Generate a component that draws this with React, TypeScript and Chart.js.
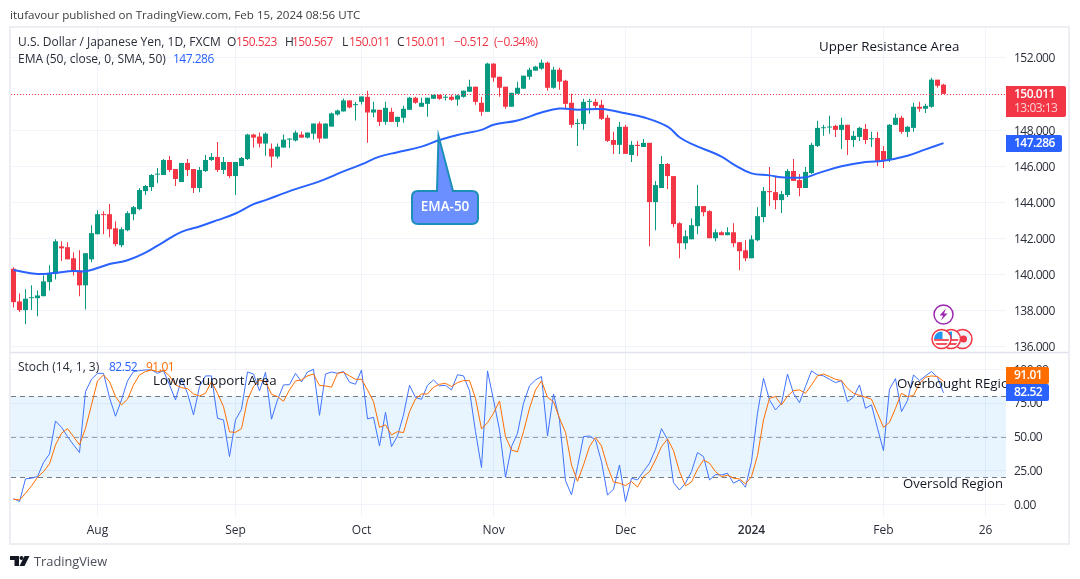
import React, { useEffect, useRef } from 'react'
import { Chart, registerables } from 'chart.js'

Chart.register(...registerables)

const opens = [
  140.33,138.52,138.04,138.70,138.70,138.81,139.59,140.04,141.57,141.52,
  140.91,140.24,139.41,140.85,142.24,143.35,143.35,142.57,141.63,142.46,
  143.35,143.63,144.63,144.85,145.54,145.52,146.35,145.85,145.13,146.19,
  145.85,144.80,145.74,146.35,146.52,145.80,146.24,145.46,146.02,146.41,
  147.76,147.65,147.26,146.98,146.54,147.04,147.48,147.43,147.76,147.59,
  147.81,148.37,147.54,148.20,148.87,149.04,149.65,149.39,149.57,149.85,
  148.98,149.13,148.46,149.02,148.46,148.69,149.13,149.80,149.30,149.46,
  149.74,149.96,149.80,149.85,149.70,149.85,150.13,150.41,149.52,149.02,
  151.69,150.96,150.41,149.30,150.02,150.30,150.96,151.30,151.41,151.74,
  150.35,151.35,150.74,149.52,148.35,148.35,149.57,149.57,149.41,148.69,
  147.46,147.19,148.19,146.63,147.19,147.07,147.30,144.02,144.80,146.13,
  145.46,142.85,141.74,141.96,142.69,143.80,143.52,142.02,142.35,142.19,
  142.35,141.80,141.35,140.91,141.91,143.19,144.63,144.57,144.13,144.41,
  145.74,145.24,144.80,145.63,147.13,148.11,148.15,148.24,148.02,148.30,
  147.46,147.63,148.07,147.50,147.57,146.85,146.35,148.30,148.69,147.91,
  148.13,149.30,149.19,149.30,150.80,150.523,
]
const highs = [
  140.41,138.96,139.19,139.41,139.13,139.96,140.52,141.96,141.85,141.80,
  141.24,141.35,141.19,142.74,143.57,143.52,143.91,142.96,142.63,143.52,
  143.80,144.80,144.96,145.57,145.91,146.41,146.57,145.85,146.19,146.41,
  145.85,145.96,146.63,146.74,147.35,146.52,146.24,146.24,146.52,147.81,
  147.81,147.87,147.87,147.26,147.26,147.76,147.56,147.98,147.93,147.87,
  148.37,148.48,148.37,148.98,149.15,149.76,149.65,149.56,149.87,150.19,
  149.57,149.13,149.57,149.24,148.74,149.35,149.85,149.85,149.80,149.80,
  149.96,149.96,149.96,149.96,149.96,150.19,150.80,150.41,149.85,151.74,
  151.69,150.96,150.41,150.07,150.69,151.02,151.46,151.57,151.91,151.80,
  151.52,151.46,150.80,150.02,148.63,149.74,149.74,149.74,149.69,148.85,
  147.91,148.46,148.30,147.41,147.41,147.52,147.30,145.19,146.57,146.19,
  145.46,142.91,142.46,143.13,144.96,143.80,143.57,142.52,142.41,142.63,
  142.85,141.80,141.91,142.19,143.74,144.85,145.96,145.41,144.63,145.85,
  146.41,145.57,145.96,147.30,148.52,148.30,148.80,148.30,148.69,148.30,
  147.96,148.19,148.35,147.91,147.91,147.13,148.35,148.91,148.80,148.24,
  149.52,149.57,149.46,150.91,150.80,150.567,
]
const lows = [
  138.19,137.93,137.26,138.04,137.70,138.81,139.13,139.74,140.76,140.85,
  139.96,138.80,138.07,140.69,142.24,142.24,142.07,141.57,141.52,142.41,
  143.02,143.57,144.41,144.63,145.07,145.52,145.69,144.91,145.13,145.46,
  144.52,144.57,145.69,146.30,145.69,145.57,145.35,144.41,146.02,146.35,
  147.04,147.04,146.59,145.93,146.43,147.04,147.02,147.37,147.59,147.54,
  147.48,147.31,147.54,148.20,148.81,149.04,149.22,148.54,149.43,147.31,
  148.72,148.24,148.30,148.46,148.19,148.41,149.13,149.46,149.30,148.74,
  149.74,149.69,149.65,149.63,149.35,149.80,150.13,149.41,148.80,149.02,
  150.69,149.85,149.19,149.30,150.02,150.30,150.80,151.30,151.35,150.19,
  150.30,150.24,149.19,148.13,147.13,148.02,148.91,149.19,148.57,147.35,
  146.69,146.69,146.69,146.24,146.57,147.07,141.57,142.46,144.80,144.74,
  142.63,140.91,141.41,141.96,142.24,143.24,142.02,141.85,142.19,142.19,
  141.52,140.24,140.74,140.91,141.85,142.91,143.80,143.63,143.41,144.30,
  145.19,144.35,144.80,145.57,147.07,147.69,147.80,147.63,146.96,146.63,
  147.07,147.41,147.24,147.07,146.02,145.91,146.24,148.30,147.80,147.63,
  147.91,149.02,148.96,149.24,150.35,150.011,
]
const closes = [
  138.48,138.04,138.67,138.74,138.85,139.63,140.07,141.85,141.46,140.85,
  140.19,139.41,141.19,142.30,143.35,143.30,142.52,141.69,142.52,143.41,
  143.74,144.69,144.91,145.52,145.56,146.35,145.80,145.30,146.19,145.80,
  144.80,145.80,146.35,146.52,145.80,146.24,145.46,146.24,146.46,147.76,
  147.59,147.26,147.81,146.54,147.09,147.48,147.52,147.87,147.59,147.87,
  148.37,147.54,148.37,148.93,149.09,149.65,149.26,149.44,149.87,148.98,
  149.15,148.46,149.24,148.46,148.74,149.19,149.80,149.52,149.52,149.80,
  149.96,149.74,149.83,149.69,149.93,150.19,150.41,149.57,149.02,151.69,
  150.91,150.35,149.30,150.07,150.35,151.02,151.35,151.52,151.74,150.35,
  151.35,150.69,149.46,148.30,148.39,149.57,149.61,149.35,148.63,147.41,
  147.19,148.19,146.69,147.19,147.13,147.30,144.02,144.96,146.13,145.46,
  142.80,141.74,142.13,142.74,143.80,143.46,142.02,142.35,142.19,142.35,
  141.74,141.30,140.91,141.96,143.24,144.63,144.57,144.13,144.46,145.74,
  145.19,144.80,145.69,147.19,148.13,148.15,148.19,148.02,148.30,147.46,
  147.69,148.13,147.46,147.54,146.30,146.35,148.30,148.69,147.91,148.19,
  149.30,149.19,149.35,150.80,150.46,150.011,
]
// EMA at these candle positions
const emaAt = [
  0,4,7,10,12,14,16,19,22,25,28,31,34,37,40,42,45,47,51,55,58,61,64,68,71,74,78,80,84,88,
  91,94,98,102,105,109,111,113,118,120,123,126,128,132,134,138,142,145,149,152,155,
]
const emaValues = [
  140.26,140.04,140.11,140.20,140.19,140.37,140.59,140.80,141.22,141.81,142.37,142.67,143.02,143.39,143.91,144.13,144.50,144.74,145.17,145.72,146.11,146.54,146.78,147.09,147.46,147.74,148.02,148.30,148.54,148.98,
  149.20,149.13,149.17,148.94,148.72,148.20,147.61,147.24,146.54,146.11,145.61,145.50,145.39,145.39,145.61,146.00,146.24,146.31,146.59,146.94,147.286,
]
const stochK = [
  4.2,2.0,18.8,19.3,20.5,30.9,37.3,61.7,57.0,50.1,
  44.0,38.3,83.5,92.6,97.0,97.0,79.0,65.2,77.3,91.4,
  98.3,99.0,99.5,99.5,97.0,99.0,88.4,77.3,92.6,82.2,
  66.2,87.2,95.1,95.1,63.7,62.5,35.3,62.5,70.4,98.0,
  96.5,84.0,97.8,63.0,77.3,88.4,88.6,97.0,90.6,98.0,
  100,65.9,96.5,98.0,97.0,98.3,90.4,88.9,99.5,63.2,
  64.4,43.2,68.1,42.7,50.6,66.2,88.1,79.0,77.8,88.1,
  92.1,87.7,88.1,84.7,96.0,95.1,84.2,53.8,27.2,98.8,
  77.3,55.1,20.0,42.7,52.6,74.8,87.7,92.1,94.6,50.6,
  81.7,62.5,17.5,6.9,27.9,50.1,50.6,47.7,31.6,6.9,
  11.1,29.1,2.0,19.3,18.0,24.2,30.4,40.7,56.0,48.1,
  16.0,10.6,15.6,24.2,38.3,35.3,18.0,22.0,21.7,23.0,
  15.6,18.0,12.6,31.6,67.4,93.3,77.3,69.9,74.8,96.5,
  82.2,75.3,87.2,98.8,95.8,95.1,92.6,90.1,91.6,76.0,
  79.3,88.4,71.1,73.6,56.3,39.8,85.2,93.1,68.6,76.8,
  95.8,91.6,95.1,98.3,94.1,82.52,
]
const stochD = [
  3.7,3.2,8.1,13.6,20.0,24.2,29.9,44.0,52.6,56.0,
  50.1,44.0,56.3,73.6,91.4,95.8,90.9,79.8,73.6,77.8,
  88.4,95.8,98.3,99.5,98.3,99.0,95.1,88.4,86.4,85.7,
  81.7,80.2,82.2,90.9,82.2,72.3,53.6,53.3,56.0,77.3,
  87.2,92.1,90.9,81.5,79.8,76.3,84.7,91.4,92.1,95.1,
  96.5,87.9,87.7,86.7,97.0,97.8,95.1,92.6,92.6,84.7,
  76.0,57.0,58.8,51.4,53.8,53.1,68.6,78.0,81.7,81.7,
  86.7,88.9,89.6,87.2,90.1,91.6,91.6,78.5,55.8,60.5,
  67.4,76.5,50.1,40.2,38.8,53.8,71.1,84.7,91.4,79.3,
  76.0,63.7,53.3,29.1,17.0,29.1,42.7,49.4,43.2,27.9,
  16.5,15.6,13.8,16.8,12.8,20.5,24.2,32.8,42.7,48.4,
  39.8,24.2,13.6,16.5,25.9,32.8,30.4,24.2,20.5,21.5,
  19.3,18.8,15.1,20.5,36.0,62.5,78.5,79.8,73.6,80.2,
  84.2,84.7,82.2,88.4,95.1,96.5,94.6,92.6,91.6,85.9,
  82.2,80.7,79.3,77.8,67.4,57.0,60.7,71.1,82.2,79.8,
  80.5,89.6,94.1,95.1,94.6,91.01,
]
const priceTicks = [136, 138, 140, 142, 144, 146, 148, 150, 152]
const stochTicks = [0, 25, 50, 75, 100]
const stochLevels = [80, 50, 20]
const timeTicks = [14, 37, 58, 80, 102, 123, 145, 162]
const timeLabels = ['Aug', 'Sep', 'Oct', 'Nov', 'Dec', '2024', 'Feb', '26']

const FONT = '"Open Sans", sans-serif'
const GREEN = '#089981'
const RED = '#F23645'
const BLUE = '#2962FF'
const ORANGE = '#FF6D00'
const GRID = '#f0f3fa'
const INK = '#131722'
const SOFT = '#2a2e39'

const candleColors = closes.map((c, i) => (c >= opens[i] ? GREEN : RED))

// canvas text sits a bit high with this font, hence the offset; tight = narrow digits like the original
function txt(ctx: CanvasRenderingContext2D, s: string, x: number, y: number, color = SOFT, size = 12, weight = '400', align: CanvasTextAlign = 'left', tight = false) {
  ctx.font = `${weight} ${size}px ${FONT}`
  ;(ctx as any).letterSpacing = tight ? '-0.5px' : '0px'
  ctx.fillStyle = color
  ctx.textAlign = align
  ctx.textBaseline = 'middle'
  ctx.fillText(s, x, Math.round(y + 1.4))
  ;(ctx as any).letterSpacing = '0px'
}

function badge(ctx: CanvasRenderingContext2D, x: number, y: number, w: number, h: number, color: string) {
  ctx.fillStyle = color
  ctx.beginPath()
  ctx.roundRect(x, y, w, h, [0, 2, 2, 0])
  ctx.fill()
}

const bandPlugin = {
  id: 'band',
  beforeDatasetsDraw(chart: any) {
    const { ctx, chartArea, scales } = chart
    const s = scales.stoch
    ctx.save()
    ctx.fillStyle = 'rgba(33,150,243,0.1)'
    ctx.fillRect(chartArea.left, s.getPixelForValue(80), chartArea.width, s.getPixelForValue(20) - s.getPixelForValue(80))
    ctx.strokeStyle = '#787b86'
    ctx.lineWidth = 1
    ctx.setLineDash([5, 4])
    stochLevels.forEach((v) => {
      const y = Math.round(s.getPixelForValue(v)) + 0.5
      ctx.globalAlpha = v === 50 ? 0.7 : 1
      ctx.beginPath()
      ctx.moveTo(chartArea.left, y)
      ctx.lineTo(chartArea.right, y)
      ctx.stroke()
    })
    ctx.restore()
  },
}

const overlayPlugin = {
  id: 'overlay',
  afterDraw(chart: any) {
    const { ctx, chartArea, scales } = chart
    const last = closes[closes.length - 1]
    const yLast = Math.round(scales.y.getPixelForValue(last)) + 0.5
    ctx.save()

    // right axis labels, drawn here so they can be nudged and stay under the badges
    priceTicks.forEach((v) => txt(ctx, v.toFixed(3), 1014, scales.y.getPixelForValue(v), SOFT, 12, '400', 'left', true))
    stochTicks.forEach((v) => txt(ctx, v.toFixed(2), 1014, scales.stoch.getPixelForValue(v), SOFT, 12, '400', 'left', true))

    // last price line
    ctx.strokeStyle = RED
    ctx.lineWidth = 1
    ctx.setLineDash([1, 2])
    ctx.beginPath()
    ctx.moveTo(chartArea.left, yLast)
    ctx.lineTo(chartArea.right, yLast)
    ctx.stroke()
    ctx.setLineDash([])

    // frame and pane divider
    ctx.strokeStyle = '#eceef4'
    ctx.lineWidth = 2
    ctx.strokeRect(10, 27, 1059, 517)
    ctx.strokeStyle = '#e0e3eb'
    ctx.lineWidth = 1.5
    ctx.beginPath()
    ctx.moveTo(11, 352.5)
    ctx.lineTo(1069, 352.5)
    ctx.stroke()

    // header and legends
    txt(ctx, 'itufavour published on TradingView.com, Feb 15, 2024 08:56 UTC', 10, 15, '#3c3c3c', 11.6)
    txt(ctx, 'U.S. Dollar / Japanese Yen, 1D, FXCM', 18, 42)
    txt(ctx, 'O', 227, 42)
    txt(ctx, '150.523', 236, 42, RED, 12, '400', 'left', true)
    txt(ctx, 'H', 285, 42)
    txt(ctx, '150.567', 292, 42, RED, 12, '400', 'left', true)
    txt(ctx, 'L', 342, 42)
    txt(ctx, '150.011', 349, 42, RED, 12, '400', 'left', true)
    txt(ctx, 'C', 397, 42)
    txt(ctx, '150.011', 405, 42, RED, 12, '400', 'left', true)
    txt(ctx, '−0.512', 454, 42, RED, 12, '400', 'left', true)
    txt(ctx, '(−0.34%)', 494, 42, RED, 12, '400', 'left', true)
    txt(ctx, 'EMA (50, close, 0, SMA, 50)', 18, 59)
    txt(ctx, '147.286', 173, 59, BLUE, 12, '400', 'left', true)
    txt(ctx, 'Stoch (14, 1, 3)', 18, 367)
    txt(ctx, '82.52', 109, 367, BLUE, 12, '400', 'left', true)
    txt(ctx, '91.01', 146, 367, ORANGE, 12, '400', 'left', true)

    // annotations
    txt(ctx, 'Upper Resistance Area', 819, 46, INK, 13.3)
    txt(ctx, 'Lower Support Area', 153, 380, INK, 13.3)
    txt(ctx, 'Overbought REgion', 897, 383, INK, 13.3)
    txt(ctx, 'Oversold Region', 903, 483, INK, 13.1)

    // EMA-50 callout
    ctx.fillStyle = '#6b8fff'
    ctx.strokeStyle = '#1b8fb8'
    ctx.lineWidth = 2
    ctx.beginPath()
    ctx.moveTo(418, 191)
    ctx.lineTo(437, 191)
    ctx.lineTo(438.5, 136)
    ctx.lineTo(453, 191)
    ctx.lineTo(472, 191)
    ctx.quadraticCurveTo(478, 191, 478, 197)
    ctx.lineTo(478, 218)
    ctx.quadraticCurveTo(478, 224, 472, 224)
    ctx.lineTo(418, 224)
    ctx.quadraticCurveTo(412, 224, 412, 218)
    ctx.lineTo(412, 197)
    ctx.quadraticCurveTo(412, 191, 418, 191)
    ctx.closePath()
    ctx.fill()
    ctx.stroke()
    txt(ctx, 'EMA-50', 445, 206, '#ffffff', 13.5, '600', 'center')

    // axis badges
    badge(ctx, 1006, 86, 60, 31, RED)
    txt(ctx, '150.011', 1014, 94, '#ffffff', 12, '600', 'left', true)
    txt(ctx, '13:03:13', 1014, 108, '#ffd0d5', 12, '400', 'left', true)
    badge(ctx, 1006, 135, 56, 17, BLUE)
    txt(ctx, '147.286', 1014, 143, '#ffffff', 12, '600', 'left', true)
    badge(ctx, 1006, 367, 43, 17, ORANGE)
    txt(ctx, '91.01', 1014, 375, '#ffffff', 12, '600', 'left', true)
    badge(ctx, 1006, 384, 43, 17, BLUE)
    txt(ctx, '82.52', 1014, 392, '#ffffff', 12, '600', 'left', true)

    // event markers
    ctx.lineWidth = 1.5
    ctx.strokeStyle = '#9c27b0'
    ctx.fillStyle = '#ffffff'
    ctx.beginPath()
    ctx.arc(943.5, 314.5, 9.5, 0, Math.PI * 2)
    ctx.fill()
    ctx.stroke()
    ctx.fillStyle = '#9c27b0'
    ctx.beginPath()
    ctx.moveTo(946, 308.5)
    ctx.lineTo(939.5, 315.5)
    ctx.lineTo(943, 315.5)
    ctx.lineTo(941, 320.5)
    ctx.lineTo(947.5, 313.5)
    ctx.lineTo(944, 313.5)
    ctx.closePath()
    ctx.fill()
    ctx.strokeStyle = RED
    ;[962.5, 951, 941.5].forEach((cx, n) => {
      ctx.fillStyle = n === 0 ? '#f0f3fa' : '#ffffff'
      ctx.beginPath()
      ctx.arc(cx, 339, 9.5, 0, Math.PI * 2)
      ctx.fill()
      ctx.stroke()
      ctx.save()
      ctx.beginPath()
      ctx.arc(cx, 339, 7.5, 0, Math.PI * 2)
      ctx.clip()
      if (n === 0) {
        ctx.fillStyle = RED
        ctx.beginPath()
        ctx.arc(cx + 1, 339, 3.5, 0, Math.PI * 2)
        ctx.fill()
      } else {
        ctx.fillStyle = '#f7525f'
        ctx.fillRect(cx - 8, 339, 16, 2)
        ctx.fillRect(cx - 8, 343, 16, 2)
        ctx.fillStyle = '#2196f3'
        ctx.fillRect(cx - 8, 331, 9, 8)
      }
      ctx.restore()
    })

    // TradingView mark
    ctx.fillStyle = INK
    ctx.fillRect(10, 556, 9, 4)
    ctx.fillRect(14.5, 556, 4.5, 10)
    ctx.beginPath()
    ctx.arc(21.5, 558, 2, 0, Math.PI * 2)
    ctx.fill()
    ctx.beginPath()
    ctx.moveTo(24.5, 556)
    ctx.lineTo(29.5, 556)
    ctx.lineTo(24.5, 566)
    ctx.lineTo(19.5, 566)
    ctx.closePath()
    ctx.fill()
    txt(ctx, 'TradingView', 34, 560.5, '#4a4e59', 12.8)
    ctx.restore()
  },
}

export default function App() {
  const canvasRef = useRef<HTMLCanvasElement>(null)

  useEffect(() => {
    if (!canvasRef.current) return
    const xy = (arr: number[]) => arr.map((v, i) => ({ x: i, y: v }))
    const chart = new Chart(canvasRef.current, {
      type: 'bar',
      data: {
        datasets: [
          {
            type: 'line', data: emaAt.map((x, i) => ({ x, y: emaValues[i] })), yAxisID: 'y',
            borderColor: BLUE, borderWidth: 2, pointRadius: 0, tension: 0.4, order: 1,
          },
          {
            type: 'bar', data: closes.map((c, i) => ({ x: i, y: [opens[i], c] })), yAxisID: 'y',
            backgroundColor: candleColors, barThickness: 5, grouped: false, minBarLength: 1, inflateAmount: 0, order: 2,
          },
          {
            type: 'bar', data: highs.map((h, i) => ({ x: i, y: [lows[i], h] })), yAxisID: 'y',
            backgroundColor: candleColors, barThickness: 1, grouped: false, inflateAmount: 0, order: 3,
          },
          {
            type: 'line', data: xy(stochD), yAxisID: 'stoch',
            borderColor: ORANGE, borderWidth: 1, pointRadius: 0, tension: 0, order: 0,
          },
          {
            type: 'line', data: xy(stochK), yAxisID: 'stoch',
            borderColor: '#3f73ff', borderWidth: 1, pointRadius: 0, tension: 0, order: 0.5,
          },
        ],
      } as any,
      options: {
        responsive: false,
        animation: false,
        events: [],
        layout: { padding: { left: 11, top: 28, right: 0, bottom: 0 } },
        plugins: { legend: { display: false }, tooltip: { enabled: false } },
        scales: {
          x: {
            type: 'linear',
            min: -0.4167,
            max: 165.4167,
            offset: false,
            border: { display: false },
            grid: { color: GRID, offset: false, drawTicks: false },
            afterBuildTicks: (s: any) => { s.ticks = timeTicks.map((value) => ({ value })) },
            afterFit: (s: any) => { s.height = 63 },
            ticks: {
              autoSkip: false, maxRotation: 0, padding: 7, color: SOFT,
              font: (c: any) => ({ family: FONT, size: 12, weight: c.tick?.value === 123 ? '600' : '400' }),
              callback: (v: any) => timeLabels[timeTicks.indexOf(Number(v))] ?? '',
            },
          },
          y: {
            type: 'linear',
            position: 'right',
            stack: 'panes',
            stackWeight: 324,
            weight: 0,
            min: 135.72,
            max: 153.66,
            border: { display: false },
            grid: { color: GRID, drawTicks: false },
            afterBuildTicks: (s: any) => { s.ticks = priceTicks.map((value) => ({ value })) },
            afterFit: (s: any) => { s.width = 74 },
            ticks: { display: false },
          },
          stoch: {
            type: 'linear',
            axis: 'y',
            position: 'right',
            stack: 'panes',
            stackWeight: 164,
            weight: 1,
            min: -8.7,
            max: 112.8,
            border: { display: false },
            grid: { color: GRID, drawTicks: false },
            afterBuildTicks: (s: any) => { s.ticks = stochTicks.map((value) => ({ value })) },
            afterFit: (s: any) => { s.width = 74 },
            ticks: { display: false },
          },
        },
      } as any,
      plugins: [bandPlugin, overlayPlugin],
    })
    return () => { chart.destroy() }
  }, [])

  return (
    <div style={{ position: 'fixed', left: 0, top: 0, width: 1080, height: 579, background: '#ffffff' }}>
      <canvas ref={canvasRef} width={1080} height={579} style={{ display: 'block' }} />
    </div>
  )
}
